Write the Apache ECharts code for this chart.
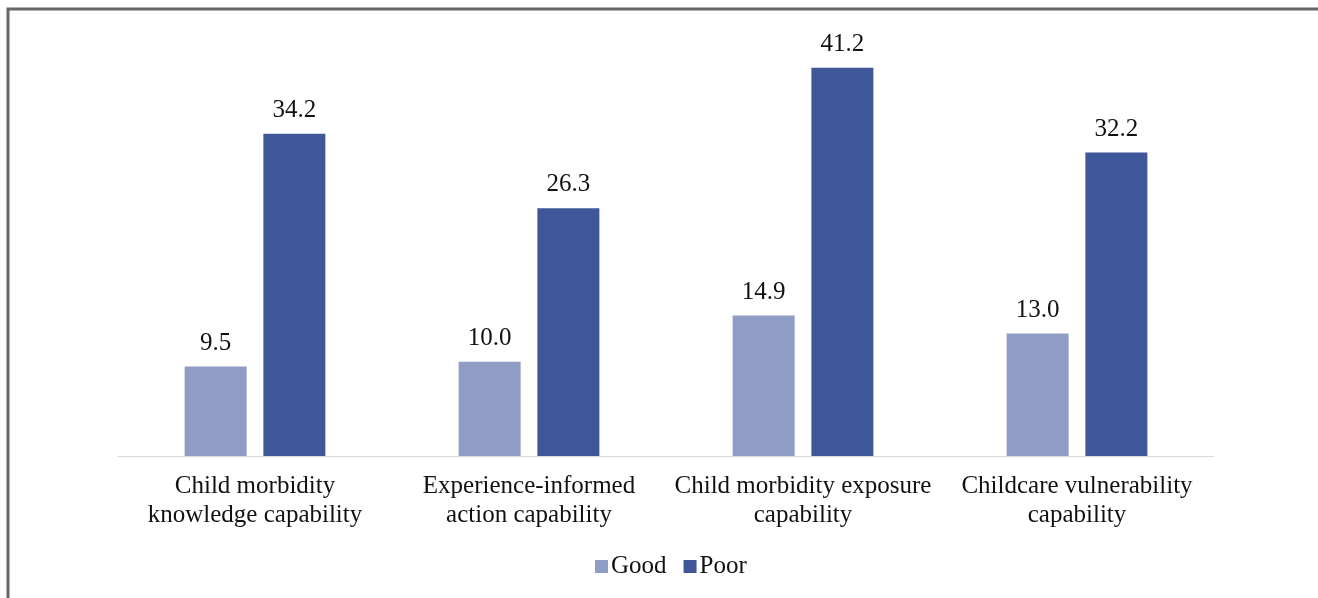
<!DOCTYPE html>
<html>
<head>
<meta charset="utf-8">
<script src="https://cdn.jsdelivr.net/npm/echarts@6/dist/echarts.min.js"></script>
<style>
    html, body { margin: 0; padding: 0; background: #fff; }
    #chart { width: 1318px; height: 598px; }
</style>
</head>
<body>
<div id="chart"></div>
<script>
const categories = [
    'Child morbidity\nknowledge capability',
    'Experience-informed\naction capability',
    'Child morbidity exposure\ncapability',
    'Childcare vulnerability\ncapability'
]
const goodValues = [9.5, 10.0, 14.9, 13.0]
const poorValues = [34.2, 26.3, 41.2, 32.2]

const fontFamily = '"Liberation Serif", "Times New Roman", serif'

let chartInstance = echarts.init(document.getElementById('chart'))

const labelOpt = {
    show: true,
    position: 'top',
    distance: 11,
    color: '#111',
    fontFamily: fontFamily,
    fontSize: 25,
    formatter: p => p.value.toFixed(1)
}

const option = {
    animation: false,
    grid: {
        left: 118,
        right: 104,
        top: 32,
        bottom: 142
    },
    xAxis: {
        type: 'category',
        data: categories,
        axisLine: { lineStyle: { color: '#d9d9d9', width: 1 } },
        axisTick: { show: false },
        axisLabel: {
            color: '#111',
            fontFamily: fontFamily,
            fontSize: 25,
            lineHeight: 29,
            margin: 16,
            interval: 0
        }
    },
    yAxis: {
        type: 'value',
        min: 0,
        max: 45,
        interval: 5,
        show: false,
        splitLine: { show: false }
    },
    legend: {
        bottom: 14,
        left: 590,
        itemWidth: 13,
        itemHeight: 13,
        itemGap: 17,
        icon: 'rect',
        textStyle: {
            color: '#111',
            fontFamily: fontFamily,
            fontSize: 25,
            padding: [0, 0, 0, -2]
        },
        data: ['Good', 'Poor']
    },
    graphic: [
        {
            type: 'polyline',
            shape: { points: [[8, 598], [8, 9], [1318, 9]] },
            style: { stroke: '#666', lineWidth: 3, fill: null }
        }
    ],
    series: [
        {
            name: 'Good',
            type: 'bar',
            data: goodValues,
            barWidth: 62,
            barGap: '27%',
            itemStyle: { color: '#8f9dc4' },
            label: labelOpt
        },
        {
            name: 'Poor',
            type: 'bar',
            data: poorValues,
            barWidth: 62,
            itemStyle: { color: '#3f5799' },
            label: labelOpt
        }
    ]
}
chartInstance.setOption(option)
</script>
</body>
</html>
